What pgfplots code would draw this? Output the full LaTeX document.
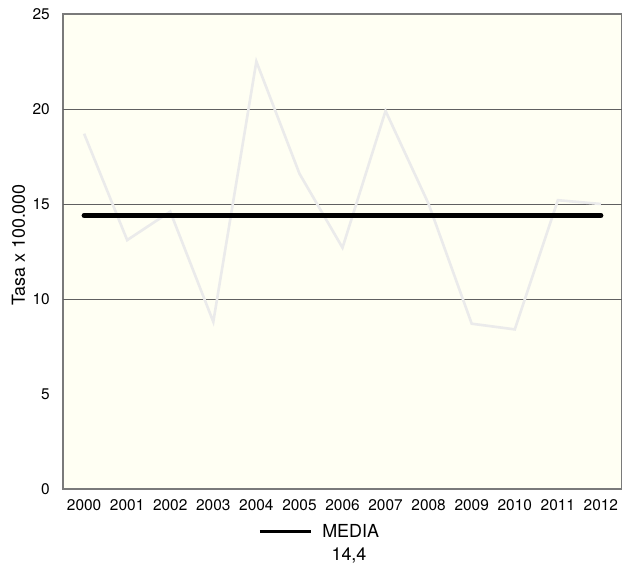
\documentclass[border=0pt]{standalone}
\usepackage{fontspec}
\setmainfont{TeX Gyre Heros}
\usepackage{pgfplots}
\pgfplotsset{compat=1.18}
\definecolor{bgc}{HTML}{FFFFF3}
\definecolor{datac}{HTML}{EBEBEB}
\definecolor{axc}{HTML}{7A7A7A}
\definecolor{gridc}{HTML}{606060}
\pgfplotstableread{
x val
0 18.7
1 13.1
2 14.6
3 8.8
4 22.5
5 16.6
6 12.7
7 19.9
8 15.0
9 8.7
10 8.4
11 15.2
12 15.0
}\tasa
\begin{document}
\begin{tikzpicture}
\useasboundingbox (0,0) rectangle (622bp,564bp);
\begin{axis}[
  at={(63bp,75bp)}, anchor=south west,
  scale only axis, width=559bp, height=475bp,
  xmin=-0.49, xmax=12.49, ymin=0, ymax=25,
  axis background/.style={fill=bgc},
  axis line style={draw=axc, line width=1.4bp},
  xtick={0,...,12},
  xticklabels={2000,2001,2002,2003,2004,2005,2006,2007,2008,2009,2010,2011,2012},
  ytick={0,5,10,15,20,25},
  extra y ticks={10,15,20},
  extra y tick labels={},
  extra y tick style={grid=major, major grid style={draw=gridc, line width=0.9bp}},
  major tick length=0pt,
  /pgf/number format/assume math mode=true,
  ticklabel style={font=\fontsize{15.5}{18}\selectfont},
  yticklabel style={inner sep=0pt, anchor=east, xshift=-13bp},
  xticklabel style={inner sep=0pt, anchor=north, yshift=-10bp},
  ylabel={Tasa x 100.000},
  ylabel style={at={(axis description cs:-0.0796,0.5137)}, anchor=center, font=\fontsize{18}{20}\selectfont},
  legend style={at={(axis description cs:0.349,-0.0905)}, anchor=west, draw=none, fill=none, inner sep=0pt,
    font=\fontsize{18}{20}\selectfont, nodes={inner sep=0pt}},
  legend image code/.code={\draw[black, line width=3bp, line cap=butt] (0bp,0bp) -- (51bp,0bp);},
]
\addplot[datac, line width=2.6bp, forget plot] table[x=x, y=val] {\tasa};
\addplot[black, line width=5bp, line cap=round] coordinates {(0,14.4) (12,14.4)};
\addlegendentry{\hspace{10bp}MEDIA}
\end{axis}
\node[anchor=base, font=\fontsize{18}{20}\selectfont, inner sep=0pt] at (349bp,3.2bp) {14,4};
\end{tikzpicture}
\end{document}
